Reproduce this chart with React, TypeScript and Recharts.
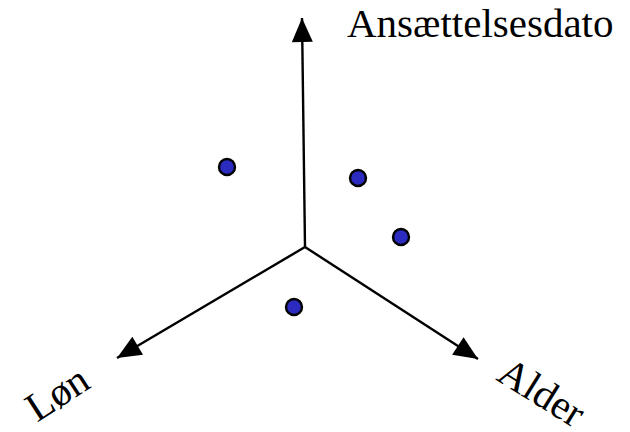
import { Scatter, ScatterChart, XAxis, YAxis } from 'recharts';

// schematic: three axes out of one origin, with four employees plotted
const axisNames = ['Ansættelsesdato', 'Løn', 'Alder'];
const origin = { x: 305, y: 247 };
const axisTipX = [302, 117, 478];
const axisTipY = [18, 358, 359];

const pointX = [227, 358, 401, 294];
const pointY = [167, 178, 237, 307];

const labelX = [347, 57, 542];
const labelY = [37, 393, 392];
const labelAngle = [0, -33, 32];

const axes = axisNames.map((name, i) => ({
  name,
  data: [
    { ...origin, tip: false },
    { x: axisTipX[i], y: axisTipY[i], tip: true }
  ]
}));
const points = pointX.map((x, i) => ({ x, y: pointY[i] }));
const labels = axisNames.map((name, i) => ({ name, x: labelX[i], y: labelY[i], angle: labelAngle[i], first: i === 0 }));

function Arrowhead(props: any) {
  const { cx, cy, payload } = props;
  if (!payload?.tip) return <g />;
  const dx = payload.x - origin.x;
  const dy = payload.y - origin.y;
  const len = Math.hypot(dx, dy);
  const ux = dx / len;
  const uy = dy / len;
  const bx = cx - ux * 24;
  const by = cy - uy * 24;
  const pts = [
    [cx, cy],
    [bx - uy * 10.5, by + ux * 10.5],
    [bx + uy * 10.5, by - ux * 10.5]
  ];
  return <polygon points={pts.map((p) => p.join(',')).join(' ')} fill="#000" />;
}

function Dot(props: any) {
  const { cx, cy } = props;
  return <circle cx={cx} cy={cy} r={8} fill="#2b2bbf" stroke="#000" strokeWidth={2.4} />;
}

function Label(props: any) {
  const { cx, cy, payload } = props;
  if (payload.first) {
    return (
      <text x={cx} y={cy} textAnchor="start" fontSize={41} fontFamily="'Liberation Serif', 'Times New Roman', serif" fill="#000">
        {payload.name}
      </text>
    );
  }
  return (
    <text
      x={cx}
      y={cy}
      textAnchor="middle"
      dominantBaseline="central"
      fontSize={41}
      fontFamily="'Liberation Serif', 'Times New Roman', serif"
      fill="#000"
      transform={`rotate(${payload.angle} ${cx} ${cy})`}
    >
      {payload.name}
    </text>
  );
}

export default function App() {
  return (
    <div style={{ position: 'absolute', left: 0, top: 0, width: 630, height: 432, background: '#fff' }}>
      <ScatterChart width={630} height={432} margin={{ top: 0, right: 0, bottom: 0, left: 0 }}>
        <XAxis type="number" dataKey="x" domain={[0, 630]} hide />
        <YAxis type="number" dataKey="y" domain={[0, 432]} reversed hide />
        {axes.map((axis) => (
          <Scatter
            key={axis.name}
            data={axis.data}
            line={{ stroke: '#000', strokeWidth: 2.4 }}
            shape={<Arrowhead />}
            isAnimationActive={false}
          />
        ))}
        <Scatter data={points} shape={<Dot />} isAnimationActive={false} />
        <Scatter data={labels} shape={<Label />} isAnimationActive={false} />
      </ScatterChart>
    </div>
  );
}
